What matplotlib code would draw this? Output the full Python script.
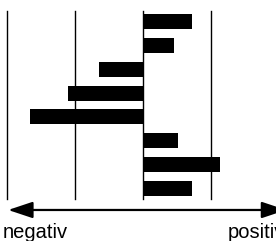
import matplotlib
matplotlib.use("Agg")
import matplotlib.pyplot as plt

# bar values, top to bottom (grid lines at -2, -1, 0, 1)
values = [0.72, 0.45, -0.66, -1.11, -1.67, 0.51, 1.12, 0.72]
grid_x = [-2, -1, 0, 1]
labels = ["negativ", "positiv"]


def main() -> None:
    fig = plt.figure(figsize=(2.76, 2.41), dpi=100)
    ax = fig.add_axes([0, 0, 1, 1])
    ax.set_xlim(-2.11, 1.95)
    ax.set_ylim(9.2, -0.9)
    ax.axis("off")

    for gx in grid_x:
        ax.plot([gx, gx], [-0.44, 7.44], color="black", lw=1.0)

    pos = list(range(len(values)))
    ax.barh(pos, values, height=0.63, color="black")

    ax.annotate("", xy=(-1.99, 7.9), xytext=(2.1, 7.9),
                arrowprops=dict(arrowstyle="<|-|>,head_length=15,head_width=5",
                                mutation_scale=1, lw=1.6, color="black",
                                shrinkA=0, shrinkB=0))

    fig.text(3 / 276, 3 / 241, labels[0], fontsize=14.5,
             family="Liberation Sans", va="baseline", ha="left")
    fig.text(228 / 276, 3 / 241, labels[1], fontsize=14.5,
             family="Liberation Sans", va="baseline", ha="left")

    fig.savefig("out.png", dpi=100)


if __name__ == "__main__":
    main()
